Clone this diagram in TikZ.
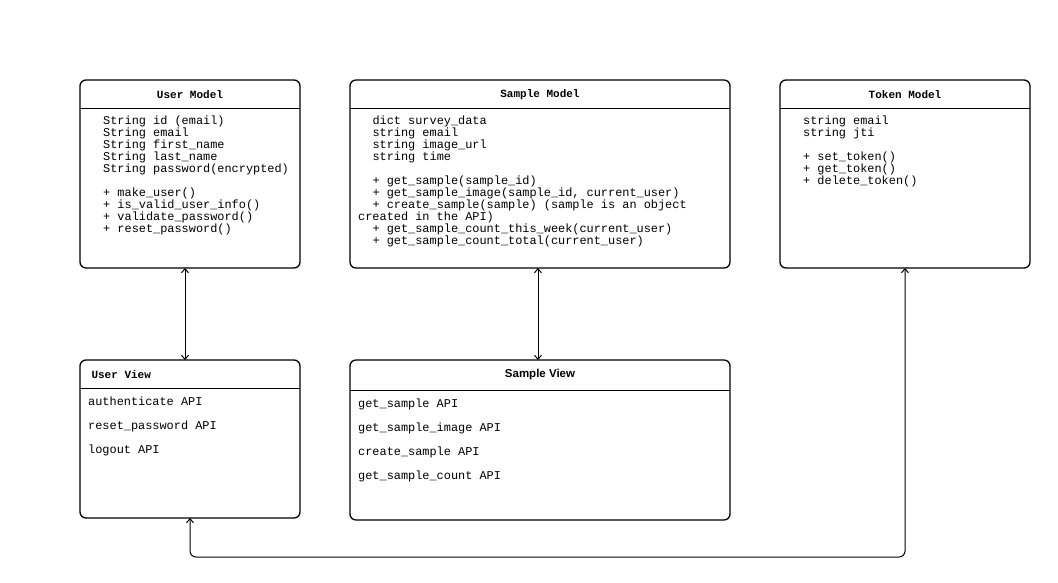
\documentclass[tikz,border=0pt]{standalone}
\usepackage{fontspec}
\setmainfont{Liberation Sans}
\setmonofont{Liberation Mono}
\usetikzlibrary{arrows.meta}
\newcommand{\ind}{\makebox[14.3pt]{}}
\begin{document}
\begin{tikzpicture}[x=1pt,y=-1pt,
  box/.style={draw,line width=1.3pt,rounded corners=6pt},
  sep/.style={line width=0.8pt},
  hdr/.style={font=\ttfamily\bfseries\fontsize{11}{12}\selectfont},
  txt/.style={anchor=north west,inner sep=0pt,align=left,font=\ttfamily\fontsize{11.9}{12}\selectfont},
  vtxt/.style={anchor=north west,inner sep=0pt,align=left,font=\ttfamily\fontsize{11.9}{24}\selectfont},
  conn/.style={line width=1pt,{Stealth[length=6pt,width=5pt,open]}-{Stealth[length=6pt,width=5pt,open]}},
  conn/.style={line width=1pt,{Straight Barb[length=4pt,width=7pt]}-{Straight Barb[length=4pt,width=7pt]}}]
\useasboundingbox (0,0) rectangle (1058,582);
% User Model
\draw[box] (80,80) rectangle (300,268);
\draw[sep] (80,108) -- (300,108);
\node[hdr] (umh) at (190,95) {User Model};
\node[txt] (umt) at (103,116) {String id (email)\\String email\\String first\_name\\String last\_name\\String password(encrypted)\\[12pt]+ make\_user()\\+ is\_valid\_user\_info()\\+ validate\_password()\\+ reset\_password()};
\coordinate (umb) at (185,268);
% Sample Model
\draw[box] (350,80) rectangle (730,268);
\draw[sep] (350,108) -- (730,108);
\node[hdr] (smh) at (540,95) {Sample Model};
\node[txt] (smt) at (358,116) {\ind dict survey\_data\\\ind string email\\\ind string image\_url\\\ind string time\\[12pt]\ind + get\_sample(sample\_id)\\\ind + get\_sample\_image(sample\_id, current\_user)\\\ind + create\_sample(sample) (sample is an object\\created in the API)\\\ind + get\_sample\_count\_this\_week(current\_user)\\\ind + get\_sample\_count\_total(current\_user)};
\coordinate (smb) at (538,268);
% Token Model
\draw[box] (780,80) rectangle (1030,268);
\draw[sep] (780,108) -- (1030,108);
\node[hdr] (tmh) at (905,95) {Token Model};
\node[txt] (tmt) at (803,116) {string email\\string jti\\[12pt]+ set\_token()\\+ get\_token()\\+ delete\_token()};
\coordinate (tmb) at (905,268);
% User View
\draw[box] (80,360) rectangle (300,518);
\draw[sep] (80,388) -- (300,388);
\node[hdr,anchor=west] (uvh) at (88,375) {User View};
\node[vtxt] (uvt) at (88,397) {authenticate API\\reset\_password API\\logout API};
\coordinate (uvt0) at (185,360);
\coordinate (uvb) at (190,518);
% Sample View
\draw[box] (350,360) rectangle (730,520);
\draw[sep] (350,390) -- (730,390);
\node[font=\bfseries\fontsize{11.5}{12}\selectfont] (svh) at (540,375) {Sample View};
\node[vtxt] (svt) at (358,399) {get\_sample API\\get\_sample\_image API\\create\_sample API\\get\_sample\_count API};
\coordinate (svt0) at (538,360);
% connectors
\draw[conn] (umb) -- (uvt0);
\draw[conn] (smb) -- (svt0);
\draw[conn,rounded corners=6pt] (tmb) -- (905,557) -- (190,557) -- (uvb);
\end{tikzpicture}
\end{document}
